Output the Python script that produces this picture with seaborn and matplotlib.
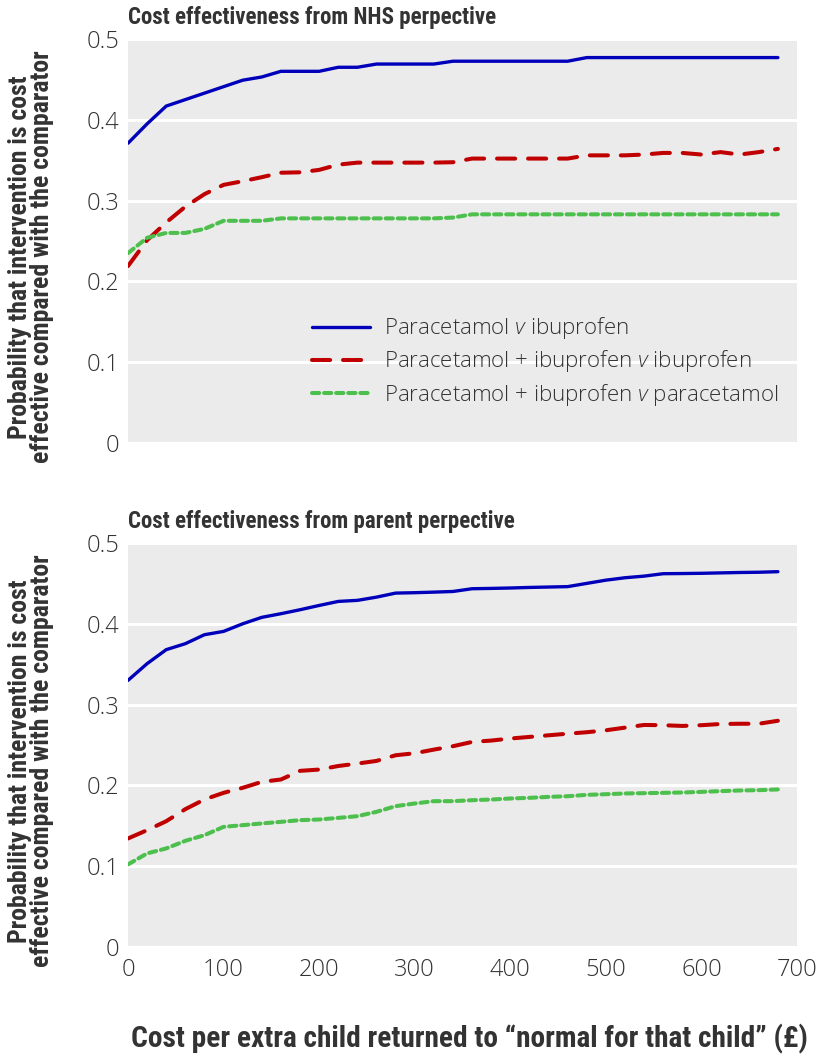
import numpy as np
import pandas as pd
import matplotlib
matplotlib.use("Agg")
import matplotlib.pyplot as plt
from matplotlib import font_manager
from matplotlib.lines import Line2D
import seaborn as sns

# ---------------- data ----------------
cost = list(range(0, 700, 20))  # 0..680

nhs_par_v_ibu = [0.371, 0.395, 0.417, 0.425, 0.433, 0.441, 0.449, 0.453, 0.460, 0.460,
                 0.460, 0.465, 0.465, 0.469, 0.469, 0.469, 0.469, 0.4725, 0.4725, 0.4725,
                 0.4725, 0.4725, 0.4725, 0.4725, 0.477, 0.477, 0.477, 0.477, 0.477, 0.477,
                 0.477, 0.477, 0.477, 0.477, 0.477]
nhs_comb_v_ibu = [0.219, 0.251, 0.273, 0.2925, 0.308, 0.3195, 0.324, 0.329, 0.3345, 0.335,
                  0.338, 0.3445, 0.347, 0.347, 0.347, 0.347, 0.347, 0.3475, 0.352, 0.352,
                  0.352, 0.352, 0.352, 0.352, 0.356, 0.356, 0.356, 0.357, 0.359, 0.359,
                  0.357, 0.360, 0.357, 0.360, 0.364]
nhs_comb_v_par = [0.235, 0.254, 0.260, 0.260, 0.265, 0.275, 0.275, 0.275, 0.278, 0.278,
                  0.278, 0.278, 0.278, 0.278, 0.278, 0.278, 0.278, 0.279, 0.283, 0.283,
                  0.283, 0.283, 0.283, 0.283, 0.283, 0.283, 0.283, 0.283, 0.283, 0.283,
                  0.283, 0.283, 0.283, 0.283, 0.283]

par_par_v_ibu = [0.330, 0.3507, 0.368, 0.3754, 0.3865, 0.3906, 0.400, 0.408, 0.4125, 0.4174,
                 0.4227, 0.4277, 0.429, 0.433, 0.438, 0.4385, 0.4392, 0.440, 0.4434, 0.4438,
                 0.4443, 0.445, 0.4455, 0.446, 0.450, 0.454, 0.457, 0.459, 0.462, 0.4622,
                 0.4625, 0.463, 0.4635, 0.4638, 0.4645]
par_comb_v_ibu = [0.1343, 0.1446, 0.1557, 0.1706, 0.1826, 0.1908, 0.197, 0.2044, 0.2073, 0.218,
                  0.2196, 0.224, 0.227, 0.2303, 0.2373, 0.2398, 0.2443, 0.2485, 0.2538, 0.2555,
                  0.258, 0.260, 0.262, 0.264, 0.2658, 0.2682, 0.2715, 0.2748, 0.2745, 0.2736,
                  0.2745, 0.276, 0.2763, 0.2763, 0.280]
par_comb_v_par = [0.1022, 0.1158, 0.122, 0.1314, 0.1384, 0.1487, 0.1508, 0.1529, 0.1549, 0.157,
                  0.1578, 0.1598, 0.1619, 0.1673, 0.1743, 0.1776, 0.1805, 0.1805, 0.1817, 0.1825,
                  0.1838, 0.1846, 0.1858, 0.1866, 0.1883, 0.1891, 0.190, 0.1904, 0.1908, 0.1912,
                  0.192, 0.1929, 0.1937, 0.1941, 0.195]

series_names = ["Paracetamol v ibuprofen",
                "Paracetamol + ibuprofen v ibuprofen",
                "Paracetamol + ibuprofen v paracetamol"]
legend_labels = [r"Paracetamol $\mathit{v}$ ibuprofen",
                 r"Paracetamol + ibuprofen $\mathit{v}$ ibuprofen",
                 r"Paracetamol + ibuprofen $\mathit{v}$ paracetamol"]
panel_titles = ["Cost effectiveness from NHS perpective",
                "Cost effectiveness from parent perpective"]
y_label = "Probability that intervention is cost\neffective compared with the comparator"
x_label = "Cost per extra child returned to \u201cnormal for that child\u201d (\u00a3)"
x_ticks = [0, 100, 200, 300, 400, 500, 600, 700]
y_ticks = [0, 0.1, 0.2, 0.3, 0.4, 0.5]
y_tick_labels = ["0", "0.1", "0.2", "0.3", "0.4", "0.5"]

# ---------------- fonts ----------------
names = {f.name for f in font_manager.fontManager.ttflist}

def pick(cands, default="DejaVu Sans"):
    for c in cands:
        if c in names:
            return c
    return default

cond_font = pick(["Liberation Sans Narrow", "DejaVu Sans Condensed", "Roboto Condensed",
                  "Open Sans Condensed", "Roboto"])
light_font = pick(["Open Sans", "Lato", "Noto Sans", "DejaVu Sans"])

sns.set_theme(style="darkgrid")
plt.rcParams["font.family"] = [light_font, "DejaVu Sans"]
plt.rcParams["mathtext.fontset"] = "custom"
plt.rcParams["mathtext.rm"] = light_font
plt.rcParams["mathtext.it"] = light_font + ":italic:light"

colors = {series_names[0]: "#0000bb",
          series_names[1]: "#c00000",
          series_names[2]: "#4cbf4c"}
dashes = {series_names[0]: "",
          series_names[1]: (4.5, 3.2),
          series_names[2]: (1.8, 1.2)}
widths = {series_names[0]: 2.4, series_names[1]: 2.9, series_names[2]: 2.9}

def make_df(a, b, c):
    return pd.DataFrame({
        "cost": cost * 3,
        "prob": a + b + c,
        "series": [series_names[0]] * len(cost) + [series_names[1]] * len(cost)
                  + [series_names[2]] * len(cost),
    })

dfs = [make_df(nhs_par_v_ibu, nhs_comb_v_ibu, nhs_comb_v_par),
       make_df(par_par_v_ibu, par_comb_v_ibu, par_comb_v_par)]

fig = plt.figure(figsize=(8.24, 10.56), dpi=100)
W, H = 824, 1056
ax_top = fig.add_axes([128 / W, (H - 443) / H, 669 / W, 404 / H])
ax_bot = fig.add_axes([128 / W, (H - 947) / H, 669 / W, 404 / H])

text_col = "#333333"
for i, (ax, df) in enumerate(zip([ax_top, ax_bot], dfs)):
    ax.set_facecolor("#ebebeb")
    sns.lineplot(data=df, x="cost", y="prob", hue="series", style="series",
                 palette=colors, dashes=dashes, ax=ax, legend=False)
    for line, name in zip(ax.get_lines(), series_names):
        line.set_linewidth(widths[name])
        line.set_solid_capstyle("round")
        line.set_dash_capstyle("round")
    ax.set_xlim(0, 700)
    ax.set_ylim(0, 0.5)
    ax.set_xticks(x_ticks)
    ax.set_yticks(y_ticks)
    ax.set_yticklabels(y_tick_labels)
    ax.grid(axis="x", visible=False)
    ax.grid(axis="y", color="white", linewidth=2.2)
    for s in ax.spines.values():
        s.set_visible(False)
    ax.tick_params(axis="x", direction="in", length=5, width=2, color="white",
                   labelsize=17, labelcolor=text_col, pad=8)
    ax.tick_params(axis="y", length=0, labelsize=17, labelcolor=text_col, pad=6)
    for lab in ax.get_xticklabels() + ax.get_yticklabels():
        lab.set_fontweight("light")
    ax.set_title(panel_titles[i], loc="left", fontsize=16.5, fontweight="bold",
                 family=cond_font, color=text_col, pad=11)
    ax.set_ylabel(y_label, fontsize=18.5, fontweight="bold", family=cond_font,
                  color=text_col, linespacing=0.93)
    ax.yaxis.set_label_coords(-0.110, 0.46)
    ax.set_xlabel("")

ax_top.tick_params(axis="x", labelbottom=False)
ax_bot.set_xlabel(x_label, fontsize=21.2, fontweight="bold", family=cond_font,
                  color=text_col)
ax_bot.xaxis.set_label_coords(0.511, -0.19)

handles = [Line2D([], [], color=colors[n], linewidth=widths[n],
                  linestyle="-" if dashes[n] == "" else (0, dashes[n]),
                  dash_capstyle="round") for n in series_names]
leg = ax_top.legend(handles, legend_labels, loc="upper left",
                    bbox_to_anchor=(0.262, 0.338), frameon=False, fontsize=16,
                    handlelength=2.6, handletextpad=0.65, labelspacing=0.32,
                    borderaxespad=0)
for t in leg.get_texts():
    t.set_color(text_col)
    t.set_fontweight("light")

fig.savefig("out.png", dpi=100)
